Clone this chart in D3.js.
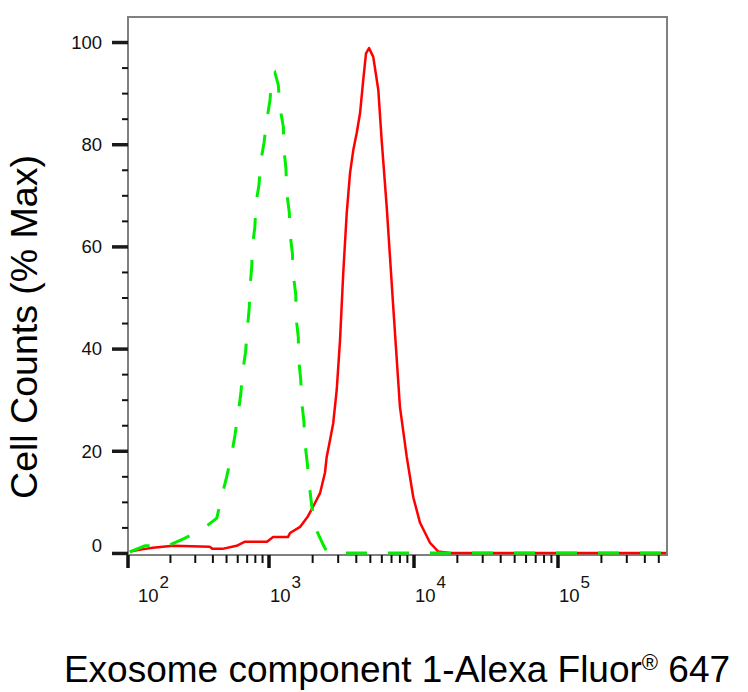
<!DOCTYPE html>
<html><head><meta charset="utf-8">
<script src="https://cdn.jsdelivr.net/npm/d3@7"></script>
<style>body{margin:0;background:#fff} svg{display:block}</style>
</head><body><svg id="c" width="748" height="692"></svg>
<script>
// ---- data (fluorescence intensity, % of max) ----
const redFluor  = [103,126,150,177,208,282,380,398,468,589,676,968,1067,1352,1396,1637,1858,2009,2249,2432,2500,2636,2773,2931,3090,3251,3436,3622,3811,4027,4246,4467,4667,4898,5236,5675,5984,6486,7194,7998,8913,9886,11015,12912,14689,17783,562000];
const redCount  = [0.3,0.7,1.0,1.2,1.4,1.3,1.2,0.8,0.8,1.4,2.2,2.2,3.1,3.1,3.9,5.1,7.2,9.0,11.7,15.7,18.8,22.1,25.4,31.9,41.7,54.8,66.5,74.4,78.8,82.2,86.1,92.6,97.8,98.8,97.1,90.6,80.8,67.7,48.1,28.6,18.8,10.9,5.9,2.0,0.3,0,0];
const greenFluor = [103,132,192,245,333,426,462,501,543,574,605,632,650,682,701,724,733,753,766,794,809,849,873,923,964,1016,1045,1099,1159,1191,1256,1268,1309,1324,1380,1396,1449,1472,1531,1535,1592,1603,1656,1683,1742,1770,1837,1897,1968,2075,2366,2512,3162,562000];
const greenCount = [0.2,1.4,1.4,2.7,4.5,6.8,11.0,14.9,19.2,23.1,27.4,31.3,35.4,39.3,43.6,47.9,51.9,55.8,60.3,63.8,68.5,72.0,76.5,80.4,84.7,88.6,93.2,94.0,91.6,87.1,83.4,78.9,75.3,70.6,66.7,62.6,58.7,54.4,50.5,46.2,42.3,37.8,33.9,29.5,25.6,21.5,17.6,13.3,9.4,5.1,1.6,0.2,0,0];
const yMajorTicks = [0,20,40,60,80,100];
const yMinorTicks = [5,10,15,25,30,35,45,50,55,65,70,75,85,90,95];
const xMajorTicks = [1e2,1e3,1e4,1e5];
const xMajorLabels = ["2","3","4","5"];
const xTitle = "Exosome component 1-Alexa Fluor";
const xTitleMark = "\u00AE";
const xTitleEnd = " 647";
const yTitle = "Cell Counts (% Max)";

const font = "'Liberation Sans', Arial, Helvetica, sans-serif";
const svg = d3.select("#c");

const x = d3.scaleLog().domain([1e2,1e3,1e4,1e5,5.7e5]).range([128,269,414,558,667]);
const y = d3.scaleLinear().domain([-0.4,104.9]).range([555,17]);

// frame
svg.append("rect").attr("x",x.range()[0]).attr("y",y.range()[1])
  .attr("width",x.range()[4]-x.range()[0]).attr("height",y.range()[0]-y.range()[1])
  .attr("fill","none").attr("stroke","#808080").attr("stroke-width",2);

// y axis minor
const yMinor = svg.append("g").attr("transform",`translate(${x.range()[0]},0)`)
  .call(d3.axisLeft(y).tickValues(yMinorTicks).tickSize(6).tickFormat(""));
yMinor.select(".domain").remove();
yMinor.selectAll("line").attr("stroke","#111").attr("stroke-width",2);

const yMajor = svg.append("g").attr("transform",`translate(${x.range()[0]},0)`)
  .call(d3.axisLeft(y).tickValues(yMajorTicks).tickSize(16).tickPadding(10));
yMajor.select(".domain").remove();
yMajor.selectAll("line").attr("stroke","#1a1a1a").attr("stroke-width",3.5);
yMajor.selectAll("text").attr("font-family",font).attr("font-size",18.5).attr("fill","#111")
  .attr("dy", d => d === 0 ? "-0.08em" : "0.34em");

// x axis
const xTicksAll = x.ticks();
const isMajor = v => Math.abs(Math.log10(v) - Math.round(Math.log10(v))) < 1e-9;
const xAxisY = y.range()[0];
svg.append("g").selectAll("line").data(xTicksAll.filter(v => !isMajor(v) && v <= x.domain()[4])).join("line")
  .attr("x1",d=>x(d)).attr("x2",d=>x(d)).attr("y1",xAxisY).attr("y2",xAxisY+8)
  .attr("stroke","#111").attr("stroke-width",2);
svg.append("g").selectAll("line").data(xMajorTicks).join("line")
  .attr("x1",d=>x(d)).attr("x2",d=>x(d)).attr("y1",xAxisY).attr("y2",xAxisY+13)
  .attr("stroke","#111").attr("stroke-width",3.5);
const lbl = svg.append("g").selectAll("text").data(xMajorTicks).join("text")
  .attr("x",(d,i)=>x(d)+(i===0?10:1)).attr("y",602)
  .attr("font-family",font).attr("font-size",18.5).attr("fill","#111");
lbl.append("tspan").text("10");
lbl.append("tspan").attr("font-size",17).attr("dx",1).attr("dy",-14).text((d,i)=>xMajorLabels[i]);

// curves
const line = d3.line().x(d=>x(d[0])).y(d=>y(d[1]));
svg.append("path").datum(redFluor.map((v,i)=>[v,redCount[i]]))
  .attr("d",line).attr("fill","none").attr("stroke","#ff0000").attr("stroke-width",2.5)
  .attr("stroke-linejoin","round");
svg.append("path").datum(greenFluor.map((v,i)=>[v,greenCount[i]]))
  .attr("d",line).attr("fill","none").attr("stroke","#00ee00").attr("stroke-width",3)
  .attr("stroke-dasharray","21,21");

// titles
const xt = svg.append("text").attr("x",397).attr("y",682).attr("text-anchor","middle")
  .attr("font-family",font).attr("font-size",37).attr("fill","#000");
xt.append("tspan").text(xTitle);
xt.append("tspan").attr("font-size",22).attr("dy",-12).text(xTitleMark);
xt.append("tspan").attr("dy",12).text(xTitleEnd);

svg.append("text").attr("transform","translate(37,327) rotate(-90)").attr("text-anchor","middle")
  .attr("font-family",font).attr("font-size",37.5).attr("fill","#000").text(yTitle);
</script></body></html>
